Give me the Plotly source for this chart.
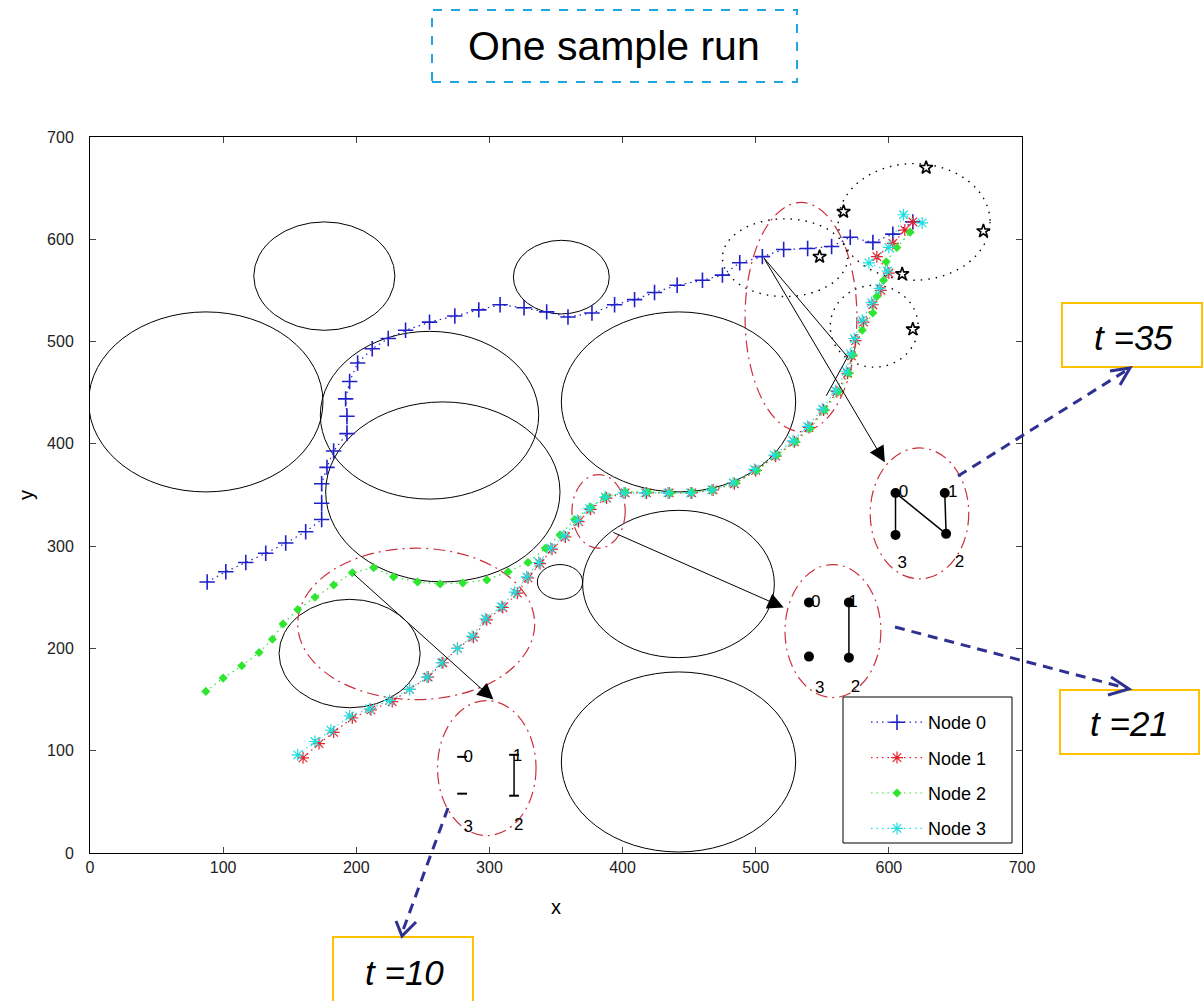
import plotly.graph_objects as go

# ---------------- data (axis units) ----------------
node0_x = [88, 102, 117, 132, 147, 162, 174, 174, 174, 178, 183, 193, 193, 192, 195, 201, 212, 224, 237, 255, 274, 292, 308, 326, 343, 359, 377, 394, 409, 424, 441, 460, 475, 488, 505, 521, 539, 557, 571, 588, 603, 618]
node0_y = [265, 275, 284, 293, 303, 314, 326, 342, 361, 377, 393, 410, 427, 444, 461, 479, 493, 503, 511, 519, 525, 531, 536, 533, 529, 524, 528, 536, 541, 548, 555, 560, 565, 577, 583, 590, 591, 593, 602, 597, 605, 617]

node1_x = [160, 172, 183, 197, 211, 227, 240, 254, 265, 276, 288, 298, 310, 321, 329, 338, 347, 357, 367, 376, 388, 402, 418, 435, 452, 468, 484, 500, 515, 529, 540, 551, 561, 569, 572, 575, 581, 588, 594, 600, 591, 603, 612, 618]
node1_y = [93, 107, 118, 132, 140, 148, 160, 172, 186, 200, 211, 228, 240, 254, 269, 283, 297, 309, 324, 336, 347, 352, 352, 352, 352, 355, 361, 374, 388, 402, 416, 433, 451, 469, 486, 501, 519, 536, 550, 567, 583, 596, 609, 617]

node2_x = [87, 100, 114, 127, 137, 145, 156, 169, 183, 197, 213, 228, 246, 263, 280, 298, 314, 329, 342, 353, 364, 376, 387, 402, 419, 436, 452, 467, 485, 501, 516, 530, 541, 552, 562, 570, 573, 580, 588, 591, 596, 598, 606, 616]
node2_y = [158, 171, 183, 196, 209, 224, 238, 250, 262, 274, 279, 270, 265, 263, 264, 267, 275, 284, 298, 311, 326, 338, 348, 353, 353, 352, 353, 355, 362, 374, 389, 402, 415, 433, 451, 469, 487, 511, 528, 544, 560, 578, 592, 607]

node3_x = [156, 169, 181, 195, 210, 225, 240, 253, 264, 276, 287, 297, 309, 319, 328, 337, 346, 356, 366, 375, 387, 401, 417, 434, 451, 467, 483, 499, 514, 528, 539, 550, 560, 568, 571, 574, 580, 587, 593, 599, 585, 600, 611, 625]
node3_y = [96, 109, 120, 134, 141, 149, 160, 172, 186, 200, 212, 229, 241, 255, 270, 284, 298, 310, 325, 337, 348, 352, 352, 352, 352, 355, 362, 375, 389, 403, 417, 434, 452, 471, 488, 503, 521, 538, 552, 569, 577, 592, 624, 616]

star_x = [628, 671, 566, 548, 610, 618]
star_y = [670, 608, 627, 583, 566, 512]

# obstacles (circles)
obs_x = [87, 176, 354, 255, 265, 442, 353, 442, 195, 442]
obs_y = [441, 564, 563, 428, 353, 441, 265, 263, 195, 89]
obs_r = [88, 53, 36, 82, 88, 88, 17, 72, 53, 88]

# red dash-dot ellipses
ell_x = [245, 382, 534, 298, 558, 623]
ell_y = [224, 334, 524, 83, 217, 332]
ell_rx = [89, 20, 42, 37, 36, 37]
ell_ry = [74, 36, 112, 66, 65, 64]

# dotted range circles
rng_x = [619, 522, 589]
rng_y = [617, 582, 515]
rng_rx = [57, 47, 33]
rng_ry = [57, 38, 40]

# arrows (tail -> tip)
arr_tail_x = [197, 392, 506]
arr_tail_y = [274, 314, 582]
arr_tip_x = [303, 521, 597]
arr_tip_y = [150, 240, 382]

# link lines
link_x = [506, 569, None, 569, 553]
link_y = [582, 485, None, 485, 447]

# inset graphs
t10_x = [279.5, 318.5, 318.5, 279.5]
t10_y = [94, 96, 56, 58]
t21_x = [540, 570, 570, 540]
t21_y = [245, 245, 191, 192]
t35_x = [605, 642, 643, 605]
t35_y = [352, 352, 312, 311]
node_labels = ["0", "1", "2", "3"]
t10_lab_x = [284, 321, 322, 284]
t10_lab_y = [93, 94, 27, 25]
t21_lab_x = [545, 573, 575, 548]
t21_lab_y = [245, 245, 162, 161]
t35_lab_x = [611, 648, 653, 610]
t35_lab_y = [352, 352, 284, 283]

x_ticks = [0, 100, 200, 300, 400, 500, 600, 700]
y_ticks = [0, 100, 200, 300, 400, 500, 600, 700]

# ---------------- figure ----------------
W, H = 1203, 1001
L, R, T, B = 90, 1022, 137, 853
FONT = "Liberation Sans, Arial, sans-serif"


def px(v):
    return (v - L) / (R - L)


def py(v):
    return (B - v) / (B - T)


fig = go.Figure()

blue = "#2020c8"
red = "#e8202a"
green = "#2ee62e"
cyan = "#20dede"
DOT = "1.5px,4px"

fig.add_trace(go.Scatter(x=node0_x, y=node0_y, mode="lines+markers", name="Node 0",
                         legendgroup="a",
                         line=dict(color=blue, width=1.2, dash=DOT),
                         marker=dict(symbol="cross-thin", size=11, color=blue,
                                     line=dict(color=blue, width=1.6))))
fig.add_trace(go.Scatter(x=node1_x, y=node1_y, mode="lines+markers", name="Node 1",
                         legendgroup="b",
                         line=dict(color=red, width=1.2, dash=DOT),
                         marker=dict(symbol="asterisk", size=10, color=red,
                                     line=dict(color=red, width=1.2))))
fig.add_trace(go.Scatter(x=node2_x, y=node2_y, mode="lines+markers", name="Node 2",
                         legendgroup="c",
                         line=dict(color=green, width=1.2, dash=DOT),
                         marker=dict(symbol="diamond", size=7, color=green,
                                     line=dict(width=0))))
fig.add_trace(go.Scatter(x=node3_x, y=node3_y, mode="lines+markers", name="Node 3",
                         legendgroup="d",
                         line=dict(color=cyan, width=1.2, dash=DOT),
                         marker=dict(symbol="asterisk", size=10, color=cyan,
                                     line=dict(color=cyan, width=1.2))))

fig.add_trace(go.Scatter(x=star_x, y=star_y, mode="markers", showlegend=False,
                         marker=dict(symbol="star-open", size=10, color="black",
                                     line=dict(color="black", width=1.6))))

fig.add_trace(go.Scatter(x=link_x, y=link_y, mode="lines", showlegend=False,
                         line=dict(color="black", width=1)))

# inset graphs
for gx, gy, lx, ly, edges, msize, msym in [
    (t10_x, t10_y, t10_lab_x, t10_lab_y, [(1, 2)], 7, "line-ew"),
    (t21_x, t21_y, t21_lab_x, t21_lab_y, [(1, 2)], 8, "circle"),
    (t35_x, t35_y, t35_lab_x, t35_lab_y, [(0, 3), (0, 2), (1, 2)], 8, "circle"),
]:
    ex, ey = [], []
    for a, b in edges:
        ex += [gx[a], gx[b], None]
        ey += [gy[a], gy[b], None]
    fig.add_trace(go.Scatter(x=ex, y=ey, mode="lines", showlegend=False,
                             line=dict(color="black", width=1.5)))
    fig.add_trace(go.Scatter(x=gx, y=gy, mode="markers", showlegend=False,
                             marker=dict(symbol=msym, size=msize, color="black",
                                         line=dict(color="black", width=2))))
    fig.add_trace(go.Scatter(x=lx, y=ly, mode="text", text=node_labels, showlegend=False,
                             textposition="middle center",
                             textfont=dict(family=FONT, size=17, color="black")))

shapes = []
for cx, cy, r in zip(obs_x, obs_y, obs_r):
    shapes.append(dict(type="circle", xref="x", yref="y", x0=cx - r, x1=cx + r,
                       y0=cy - r, y1=cy + r, line=dict(color="black", width=1), layer="below"))
for cx, cy, rx, ry in zip(ell_x, ell_y, ell_rx, ell_ry):
    shapes.append(dict(type="circle", xref="x", yref="y", x0=cx - rx, x1=cx + rx,
                       y0=cy - ry, y1=cy + ry,
                       line=dict(color="#c8303c", width=1.2, dash="12px,5px,2px,5px"), layer="below"))
for cx, cy, rx, ry in zip(rng_x, rng_y, rng_rx, rng_ry):
    shapes.append(dict(type="circle", xref="x", yref="y", x0=cx - rx, x1=cx + rx,
                       y0=cy - ry, y1=cy + ry,
                       line=dict(color="black", width=1.4, dash="1.5px,6px"), layer="below"))

# legend box
shapes.append(dict(type="rect", xref="paper", yref="paper", x0=px(843), x1=px(1012),
                   y0=py(843), y1=py(697), fillcolor="white",
                   line=dict(color="black", width=1), layer="above"))

# title box
shapes.append(dict(type="rect", xref="paper", yref="paper", x0=px(432), x1=px(797),
                   y0=py(82), y1=py(10), line=dict(color="#1ea7e1", width=2, dash="dash")))
# t boxes
for x0, y0, x1, y1 in [(1062, 303, 1202, 367), (1060, 690, 1199, 754), (333, 937, 473, 1004)]:
    shapes.append(dict(type="rect", xref="paper", yref="paper", x0=px(x0), x1=px(x1),
                       y0=py(y1), y1=py(y0), line=dict(color="#ffc000", width=2)))

# blue dashed callout arrows
acol = "#2e3192"
for (x0, y0, x1, y1), chev in [
    ((958, 476, 1127, 370), [(1110, 371), (1130, 368), (1120, 385)]),
    ((895, 627, 1126, 688), [(1111, 677), (1129, 689), (1108, 695)]),
    ((448, 808, 402, 933), [(396, 921), (402, 936), (416, 922)]),
]:
    shapes.append(dict(type="line", xref="paper", yref="paper", x0=px(x0), y0=py(y0),
                       x1=px(x1), y1=py(y1), line=dict(color=acol, width=3, dash="10px,7px")))
    path = "M {},{} L {},{} L {},{}".format(px(chev[0][0]), py(chev[0][1]),
                                             px(chev[1][0]), py(chev[1][1]),
                                             px(chev[2][0]), py(chev[2][1]))
    shapes.append(dict(type="path", xref="paper", yref="paper", path=path,
                       line=dict(color=acol, width=3)))

annotations = []
for tx, ty, hx, hy in zip(arr_tail_x, arr_tail_y, arr_tip_x, arr_tip_y):
    annotations.append(dict(x=hx, y=hy, ax=tx, ay=ty, xref="x", yref="y", axref="x", ayref="y",
                            text="", showarrow=True, arrowhead=2, arrowsize=3.2,
                            arrowwidth=1, arrowcolor="black", standoff=0))

annotations.append(dict(x=px(614), y=py(46), xref="paper", yref="paper", text="One sample run",
                        xanchor="center", yanchor="middle", showarrow=False,
                        font=dict(family="Liberation Sans, Arial", size=41, color="black")))
for txt, cx, cy in [("t =35", 1133, 337), ("t =21", 1129, 723), ("t =10", 404, 972)]:
    annotations.append(dict(x=px(cx), y=py(cy), xref="paper", yref="paper", text="<i>" + txt + "</i>",
                            xanchor="center", yanchor="middle", showarrow=False,
                            font=dict(family="Liberation Sans, Arial", size=35, color="black")))

fig.update_layout(
    width=W, height=H,
    margin=dict(l=L, r=W - R, t=T, b=H - B, pad=0),
    paper_bgcolor="white", plot_bgcolor="white",
    shapes=shapes, annotations=annotations,
    showlegend=True,
    legend=dict(x=px(866), y=py(704), xanchor="left", yanchor="top",
                bgcolor="rgba(255,255,255,0)", borderwidth=0,
                font=dict(family=FONT, size=18, color="black"),
                tracegroupgap=9, itemwidth=52),
    xaxis=dict(range=[0, 700], tickvals=x_ticks, ticks="inside", ticklen=6, showgrid=False,
               zeroline=False, showline=True, linecolor="black", linewidth=1, mirror="ticks",
               tickfont=dict(family=FONT, size=16, color="#222"),
               title=dict(text="x", font=dict(family=FONT, size=20, color="black"), standoff=24)),
    yaxis=dict(range=[0, 700], tickvals=y_ticks, ticks="inside", ticklen=6, showgrid=False,
               zeroline=False, showline=True, linecolor="black", linewidth=1, mirror="ticks",
               tickfont=dict(family=FONT, size=16, color="#222"), ticklabelstandoff=12,
               title=dict(text="y", font=dict(family=FONT, size=20, color="black"), standoff=8)),
)

fig.write_html("out.html")
